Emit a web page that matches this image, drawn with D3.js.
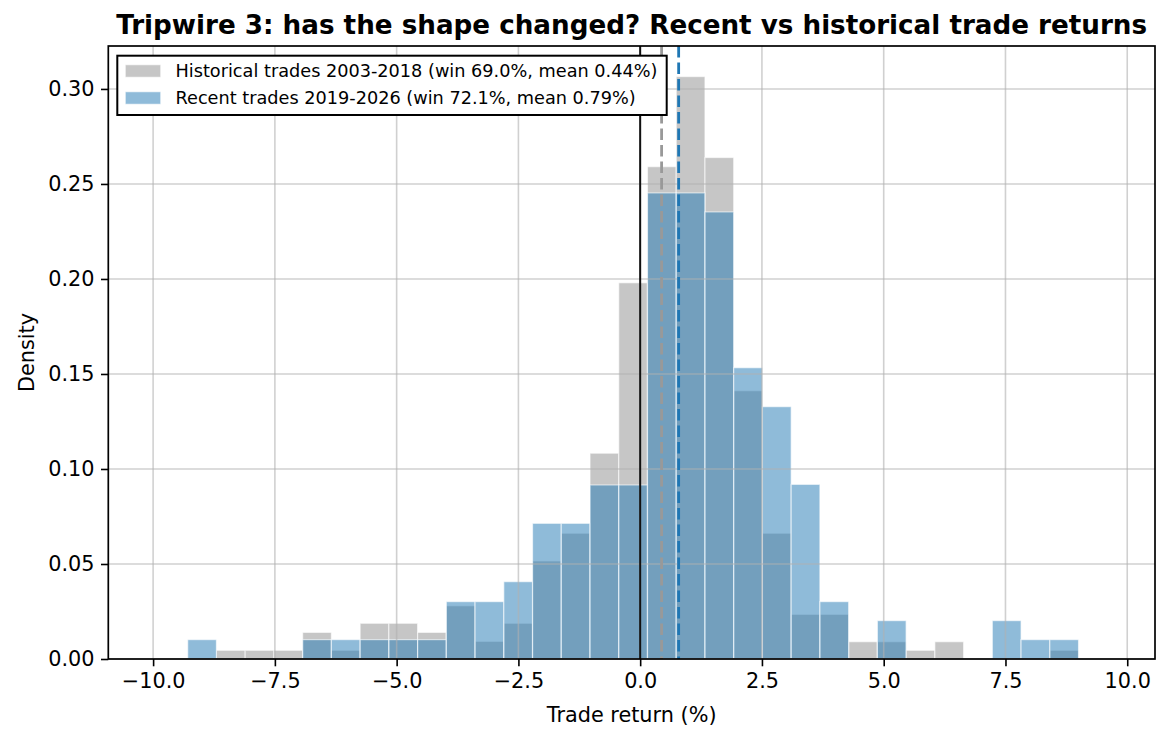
<!DOCTYPE html>
<html>
<head>
<meta charset="utf-8">
<script src="https://cdn.jsdelivr.net/npm/d3@7"></script>
<style>
  body { margin: 0; background: #fff; }
  svg { display: block; font-family: "DejaVu Sans", sans-serif; }
</style>
</head>
<body>
<svg id="chart" width="1170" height="741"></svg>
<script>
// histogram bin edges (31 bins, shared by both series)
const binEdges = [-9.29, -8.70, -8.11, -7.52, -6.93, -6.34, -5.75, -5.16, -4.57, -3.98,
                  -3.39, -2.80, -2.21, -1.62, -1.03, -0.44, 0.15, 0.74, 1.33, 1.92,
                  2.51, 3.10, 3.69, 4.28, 4.87, 5.46, 6.05, 6.64, 7.23, 7.82, 8.41, 9.00];

// density per bin
const histDensity = [0, 0.0046, 0.0046, 0.0046, 0.0140, 0.0046, 0.0188, 0.0188, 0.0140, 0.0280,
                     0.0093, 0.0188, 0.0516, 0.0662, 0.1083, 0.1980, 0.2591, 0.3065, 0.2639, 0.1412,
                     0.0662, 0.0235, 0.0235, 0.0091, 0.0091, 0.0046, 0.0091, 0, 0, 0, 0.0046];
const recentDensity = [0.0102, 0, 0, 0, 0.0102, 0.0102, 0.0102, 0.0102, 0.0102, 0.0302,
                       0.0302, 0.0407, 0.0714, 0.0714, 0.0916, 0.0916, 0.2453, 0.2453, 0.2353, 0.1533,
                       0.1328, 0.0919, 0.0302, 0, 0.0202, 0, 0, 0, 0.0202, 0.0102, 0.0102];

const histMean = 0.44;
const recentMean = 0.79;

const seriesLabels = ["Historical trades 2003-2018 (win 69.0%, mean 0.44%)",
                      "Recent trades 2019-2026 (win 72.1%, mean 0.79%)"];

const xTicks = [-10, -7.5, -5, -2.5, 0, 2.5, 5, 7.5, 10];
const yTicks = [0, 0.05, 0.10, 0.15, 0.20, 0.25, 0.30];

const titleText = "Tripwire 3: has the shape changed? Recent vs historical trade returns";

function init() {
    const svg = d3.select("#chart");
    const left = 108.3, right = 1155, top = 46, bottom = 659;

    var x = d3.scaleLinear().domain([-10.92, 10.57]).range([left, right]);
    var y = d3.scaleLinear().domain([0, 0.3226]).range([bottom, top]);

    const bins = d3.range(binEdges.length - 1).map(i => ({
        x0: binEdges[i], x1: binEdges[i + 1], h: histDensity[i], r: recentDensity[i]
    }));

    // bars: historical grey first, recent blue on top
    svg.append("g").selectAll("rect").data(bins.filter(d => d.h > 0)).join("rect")
        .attr("x", d => x(d.x0)).attr("width", d => x(d.x1) - x(d.x0))
        .attr("y", d => y(d.h)).attr("height", d => y(0) - y(d.h))
        .attr("fill", "#808080").attr("fill-opacity", 0.45)
        .attr("stroke", "#fff").attr("stroke-opacity", 0.6).attr("stroke-width", 1.2);

    svg.append("g").selectAll("rect").data(bins.filter(d => d.r > 0)).join("rect")
        .attr("x", d => x(d.x0)).attr("width", d => x(d.x1) - x(d.x0))
        .attr("y", d => y(d.r)).attr("height", d => y(0) - y(d.r))
        .attr("fill", "#1f77b4").attr("fill-opacity", 0.5)
        .attr("stroke", "#fff").attr("stroke-opacity", 0.6).attr("stroke-width", 1.2);

    // grid sits above the bars, like matplotlib
    const grid = svg.append("g").attr("stroke", "#b0b0b0").attr("stroke-opacity", 0.6).attr("stroke-width", 1.6);
    grid.selectAll(".gx").data(xTicks).join("line")
        .attr("x1", d => x(d)).attr("x2", d => x(d)).attr("y1", top).attr("y2", bottom);
    grid.selectAll(".gy").data(yTicks).join("line")
        .attr("y1", d => y(d)).attr("y2", d => y(d)).attr("x1", left).attr("x2", right);

    // zero line and the two means
    svg.append("line").attr("x1", x(0)).attr("x2", x(0)).attr("y1", top).attr("y2", bottom)
        .attr("stroke", "#111").attr("stroke-width", 2);
    svg.append("line").attr("x1", x(histMean)).attr("x2", x(histMean)).attr("y1", top).attr("y2", bottom)
        .attr("stroke", "#999").attr("stroke-width", 2.8).attr("stroke-dasharray", "11.5,5");
    svg.append("line").attr("x1", x(recentMean)).attr("x2", x(recentMean)).attr("y1", top).attr("y2", bottom)
        .attr("stroke", "#1f77b4").attr("stroke-width", 2.8).attr("stroke-dasharray", "11.5,5");

    // axes
    const xAxis = svg.append("g").attr("transform", `translate(0,${bottom})`)
        .call(d3.axisBottom(x).tickValues(xTicks).tickFormat(d3.format(".1f")).tickSize(7.3).tickPadding(6.5));
    const yAxis = svg.append("g").attr("transform", `translate(${left},0)`)
        .call(d3.axisLeft(y).tickValues(yTicks).tickFormat(d3.format(".2f")).tickSize(7.3).tickPadding(6.5));
    [xAxis, yAxis].forEach(a => {
        a.select(".domain").remove();
        a.selectAll(".tick line").attr("stroke", "#000").attr("stroke-width", 1.6);
        a.selectAll(".tick text").attr("fill", "#000").style("font-size", "20.8px")
            .style("font-family", "DejaVu Sans");
    });

    // frame
    svg.append("rect").attr("x", left).attr("y", top).attr("width", right - left).attr("height", bottom - top)
        .attr("fill", "none").attr("stroke", "#000").attr("stroke-width", 1.7);

    // labels
    svg.append("text").attr("x", (left + right) / 2).attr("y", 722).attr("text-anchor", "middle")
        .style("font-size", "20.8px").text("Trade return (%)");
    svg.append("text").attr("transform", `translate(34,${(top + bottom) / 2}) rotate(-90)`)
        .attr("text-anchor", "middle").style("font-size", "20.8px").text("Density");
    svg.append("text").attr("x", (left + right) / 2).attr("y", 33.5).attr("text-anchor", "middle")
        .style("font-size", "26.2px").style("font-weight", "bold").text(titleText);

    // legend
    const lg = svg.append("g");
    lg.append("rect").attr("x", 117.3).attr("y", 55.7).attr("width", 549.4).attr("height", 59.3)
        .attr("fill", "#fff").attr("stroke", "#000").attr("stroke-width", 2);
    const swatch = [{ c: "#808080", o: 0.45 }, { c: "#1f77b4", o: 0.5 }];
    seriesLabels.forEach((t, i) => {
        const cy = 71 + i * 27;
        lg.append("rect").attr("x", 125.3).attr("y", cy - 6.2).attr("width", 35.4).attr("height", 12.4)
            .attr("fill", swatch[i].c).attr("fill-opacity", swatch[i].o)
            .attr("stroke", "#fff").attr("stroke-opacity", 0.6);
        lg.append("text").attr("x", 175.5).attr("y", cy + 6.4).style("font-size", "17.7px").text(t);
    });
}

init();
</script>
</body>
</html>
